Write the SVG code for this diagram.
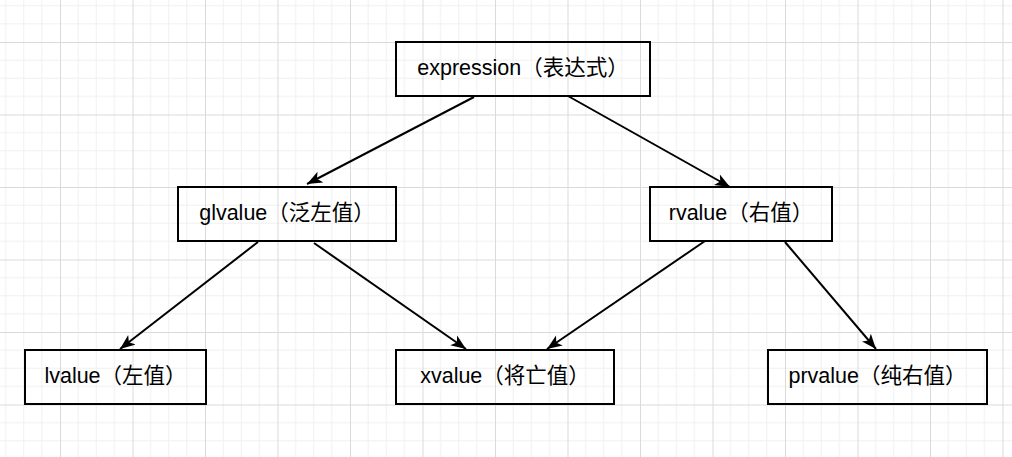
<svg xmlns="http://www.w3.org/2000/svg" width="1012" height="457" viewBox="0 0 1012 457">
<style>
.box{fill:none;stroke:#000;stroke-width:2}
.lbl{font-family:"Liberation Sans","Noto Sans CJK SC",sans-serif;font-size:21.5px;fill:#000;text-anchor:middle}
.edge{fill:none;stroke:#000;stroke-width:2;marker-end:url(#arr)}
</style>
<defs>
<pattern id="grid" patternUnits="userSpaceOnUse" x="60" y="42" width="72.5" height="72.5">
<path d="M18.125,0V72.5M36.25,0V72.5M54.375,0V72.5M0,18.125H72.5M0,36.25H72.5M0,54.375H72.5" stroke="#f0f0f0" stroke-width="1" fill="none"/>
<path d="M0.5,0V72.5M0,0.5H72.5" stroke="#dadada" stroke-width="1" fill="none"/>
</pattern>
<marker id="arr" markerUnits="userSpaceOnUse" markerWidth="16" markerHeight="13" refX="15" refY="6.5" orient="auto" viewBox="0 0 16 13">
<path d="M0,0.5 L15,6.5 L0,12.5 L3.8,6.5 Z" fill="#000"/>
</marker>
</defs>
<rect width="1012" height="457" fill="#fff"/>
<rect width="1012" height="457" fill="url(#grid)"/>
<g id="connectors">
<path class="edge" d="M474,97 L307,184"/>
<path class="edge" d="M568,96 L730,187"/>
<path class="edge" d="M258,242 L120,349"/>
<path class="edge" d="M314,243 L466,349"/>
<path class="edge" d="M705,241 L547,349"/>
<path class="edge" d="M785,242 L876,349"/>
</g>
<g id="expression"><rect class="box" x="396" y="42" width="254" height="54"/><text class="lbl" x="523" y="75">expression（表达式）</text></g>
<g id="glvalue"><rect class="box" x="178" y="187" width="218" height="54"/><text class="lbl" x="287" y="220">glvalue（泛左值）</text></g>
<g id="rvalue"><rect class="box" x="650" y="187" width="182" height="54"/><text class="lbl" x="741" y="220">rvalue（右值）</text></g>
<g id="lvalue"><rect class="box" x="25" y="350" width="181" height="54"/><text class="lbl" x="115.5" y="383">lvalue（左值）</text></g>
<g id="xvalue"><rect class="box" x="396" y="350" width="218" height="54"/><text class="lbl" x="505" y="383">xvalue（将亡值）</text></g>
<g id="prvalue"><rect class="box" x="768" y="350" width="219" height="54"/><text class="lbl" x="877.5" y="383">prvalue（纯右值）</text></g>
</svg>
